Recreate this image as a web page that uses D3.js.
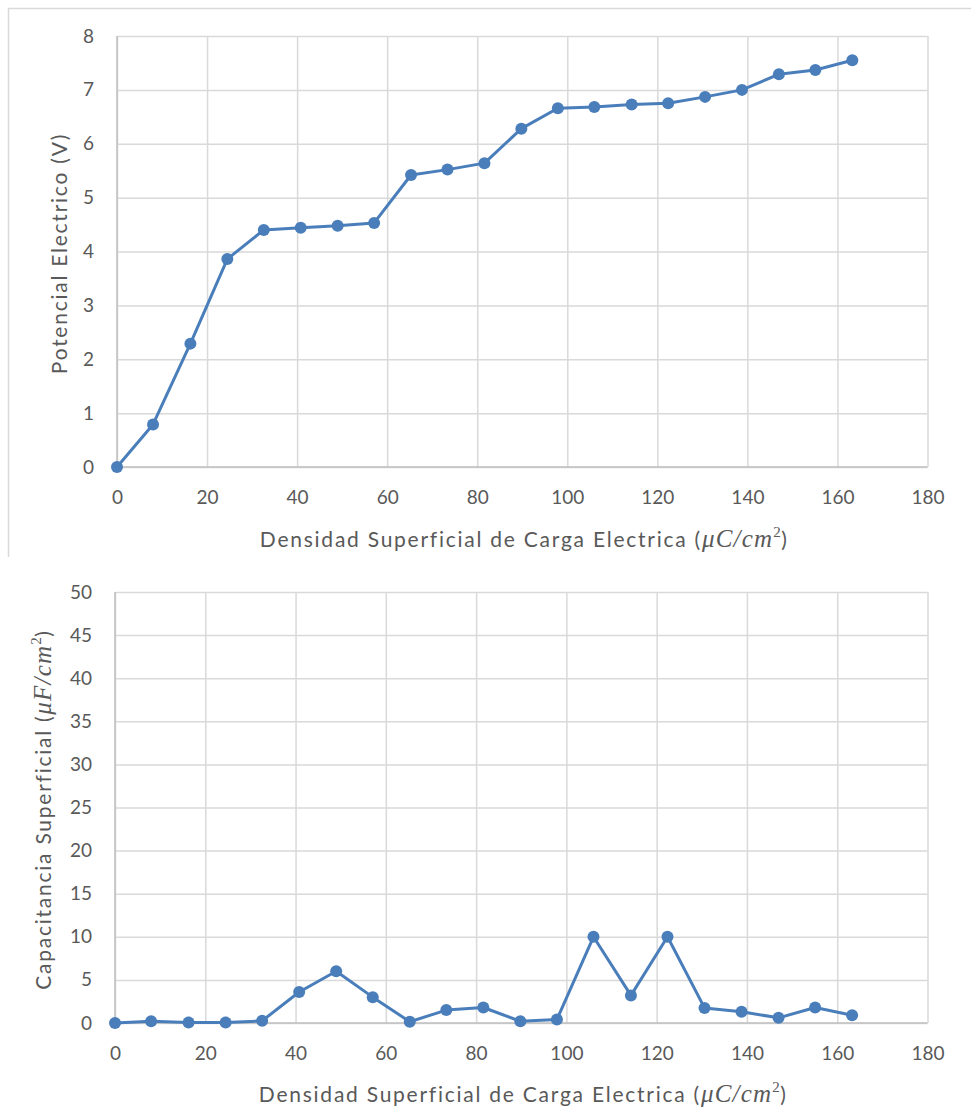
<!DOCTYPE html>
<html>
<head>
<meta charset="utf-8">
<script src="https://cdn.jsdelivr.net/npm/d3@7"></script>
<style>
  html, body { margin: 0; padding: 0; background: #fff; }
  svg { display: block; }
  text { font-family: Lato, "Open Sans", sans-serif; fill: #595959; }
  .title { font-size: 21px; letter-spacing: 1.75px; }
  .math { font-family: "Liberation Serif", "DejaVu Serif", serif; font-style: italic; font-size: 25px; letter-spacing: 1.2px; }
  .sup { font-family: "Liberation Serif", serif; font-size: 15px; letter-spacing: 0.5px; }
</style>
</head>
<body>
<svg id="chart" width="971" height="1111"></svg>
<script>
// Surface charge density (µC/cm²), shared by both panels
const chargeDensity = [0, 8.0, 16.3, 24.5, 32.6, 40.8, 49.0, 57.1, 65.3, 73.4, 81.6,
                       89.8, 97.9, 106.0, 114.3, 122.4, 130.6, 138.8, 147.0, 155.1, 163.3];
// Electric potential (V)
const potential = [0, 0.79, 2.29, 3.86, 4.40, 4.44, 4.48, 4.53, 5.42, 5.52, 5.64,
                   6.28, 6.66, 6.68, 6.73, 6.75, 6.87, 7.00, 7.29, 7.37, 7.55];
// Surface capacitance (µF/cm²)
const capacitance = [0, 0.2, 0.05, 0.05, 0.25, 3.6, 6.0, 3.0, 0.15, 1.5, 1.8,
                     0.2, 0.4, 10.0, 3.2, 10.0, 1.75, 1.3, 0.6, 1.8, 0.9];

const xTicks = [0, 20, 40, 60, 80, 100, 120, 140, 160, 180];
const potentialTicks = [0, 1, 2, 3, 4, 5, 6, 7, 8];
const capacitanceTicks = [0, 5, 10, 15, 20, 25, 30, 35, 40, 45, 50];

const xTitle = "Densidad Superficial de Carga Electrica ";
const yTitleTop = "Potencial Electrico (V)";
const yTitleBottom = "Capacitancia Superficial ";

const LINE = "#4a7ebb";
const GRID = "#d9d9d9";
const AXIS = "#bfbfbf";

const svg = d3.select("#chart");

// light frame around the upper chart
svg.append("path")
  .attr("d", "M8.5,557 V8.5 H971")
  .attr("fill", "none").attr("stroke", GRID).attr("stroke-width", 1.5);

// title text followed by a unit written in math style: (unit²)
function unitTitle(sel, label, unit) {
  sel.append("tspan").text(label);
  sel.append("tspan").text("(");
  sel.append("tspan").attr("class", "math").text(unit);
  sel.append("tspan").attr("class", "sup").attr("dy", -10).text("2");
  sel.append("tspan").attr("dy", 10).text(")");
}

function panel(cfg) {
  const x = d3.scaleLinear().domain([0, 180]).range([cfg.left, cfg.right]);
  const y = d3.scaleLinear().domain(cfg.yDomain).range([cfg.bottom, cfg.top]);
  const g = svg.append("g");

  // vertical grid
  g.append("g").call(d3.axisBottom(x).tickValues(xTicks).tickSize(-(cfg.bottom - cfg.top)).tickFormat(""))
    .attr("transform", `translate(0,${cfg.bottom})`)
    .call(s => s.select(".domain").remove())
    .call(s => s.selectAll("line").attr("stroke", GRID).attr("stroke-width", 1.5));
  // horizontal grid
  g.append("g").call(d3.axisLeft(y).tickValues(cfg.yTicks).tickSize(-(cfg.right - cfg.left)).tickFormat(""))
    .attr("transform", `translate(${cfg.left},0)`)
    .call(s => s.select(".domain").remove())
    .call(s => s.selectAll("line").attr("stroke", GRID).attr("stroke-width", 1.5));

  // axis lines
  g.append("line").attr("x1", cfg.left).attr("x2", cfg.right).attr("y1", cfg.bottom).attr("y2", cfg.bottom)
    .attr("stroke", AXIS).attr("stroke-width", 1.5);
  g.append("line").attr("x1", cfg.left).attr("x2", cfg.left).attr("y1", cfg.top).attr("y2", cfg.bottom)
    .attr("stroke", AXIS).attr("stroke-width", 1.5);

  // tick labels
  g.append("g").call(d3.axisBottom(x).tickValues(xTicks).tickSize(0).tickPadding(0))
    .attr("transform", `translate(0,${cfg.bottom})`)
    .call(s => s.select(".domain").remove())
    .call(s => s.selectAll("text").attr("y", cfg.xLabelOffset).attr("dy", "0.35em")
      .attr("font-size", 19).style("font-family", "Lato, sans-serif").attr("fill", "#595959"));
  g.append("g").call(d3.axisLeft(y).tickValues(cfg.yTicks).tickSize(0).tickPadding(0))
    .attr("transform", `translate(${cfg.yLabelX},0)`)
    .call(s => s.select(".domain").remove())
    .call(s => s.selectAll("text").attr("font-size", 19).style("font-family", "Lato, sans-serif").attr("fill", "#595959"));

  // series
  const pts = chargeDensity.map((d, i) => [d, cfg.values[i]]);
  g.append("path").datum(pts)
    .attr("d", d3.line().x(d => x(d[0])).y(d => y(d[1])))
    .attr("fill", "none").attr("stroke", LINE).attr("stroke-width", 3).attr("stroke-linejoin", "round");
  g.selectAll("circle.pt").data(pts).join("circle")
    .attr("class", "pt").attr("cx", d => x(d[0])).attr("cy", d => y(d[1])).attr("r", 6).attr("fill", LINE);

  // x axis title
  const xt = g.append("text").attr("class", "title")
    .attr("x", (cfg.left + cfg.right) / 2 + 2).attr("y", cfg.xTitleY)
    .attr("text-anchor", "middle");
  unitTitle(xt, xTitle, "\u03BCC/cm");

  // y axis title
  const yt = g.append("text").attr("class", "title")
    .attr("transform", `translate(${cfg.yTitleX},${(cfg.top + cfg.bottom) / 2 + 2}) rotate(-90)`)
    .attr("text-anchor", "middle");
  if (cfg.yMath) unitTitle(yt, cfg.yTitle, "\u03BCF/cm");
  else yt.text(cfg.yTitle);
}

panel({
  left: 117, right: 927.5, top: 36, bottom: 467,
  yDomain: [0, 8], yTicks: potentialTicks, values: potential,
  xLabelOffset: 30, yLabelX: 94, xTitleY: 547, yTitleX: 67,
  yTitle: yTitleTop, yMath: false
});

panel({
  left: 115, right: 927.5, top: 592, bottom: 1023,
  yDomain: [0, 50], yTicks: capacitanceTicks, values: capacitance,
  xLabelOffset: 30, yLabelX: 92, xTitleY: 1102, yTitleX: 51,
  yTitle: yTitleBottom, yMath: true
});
</script>
</body>
</html>
